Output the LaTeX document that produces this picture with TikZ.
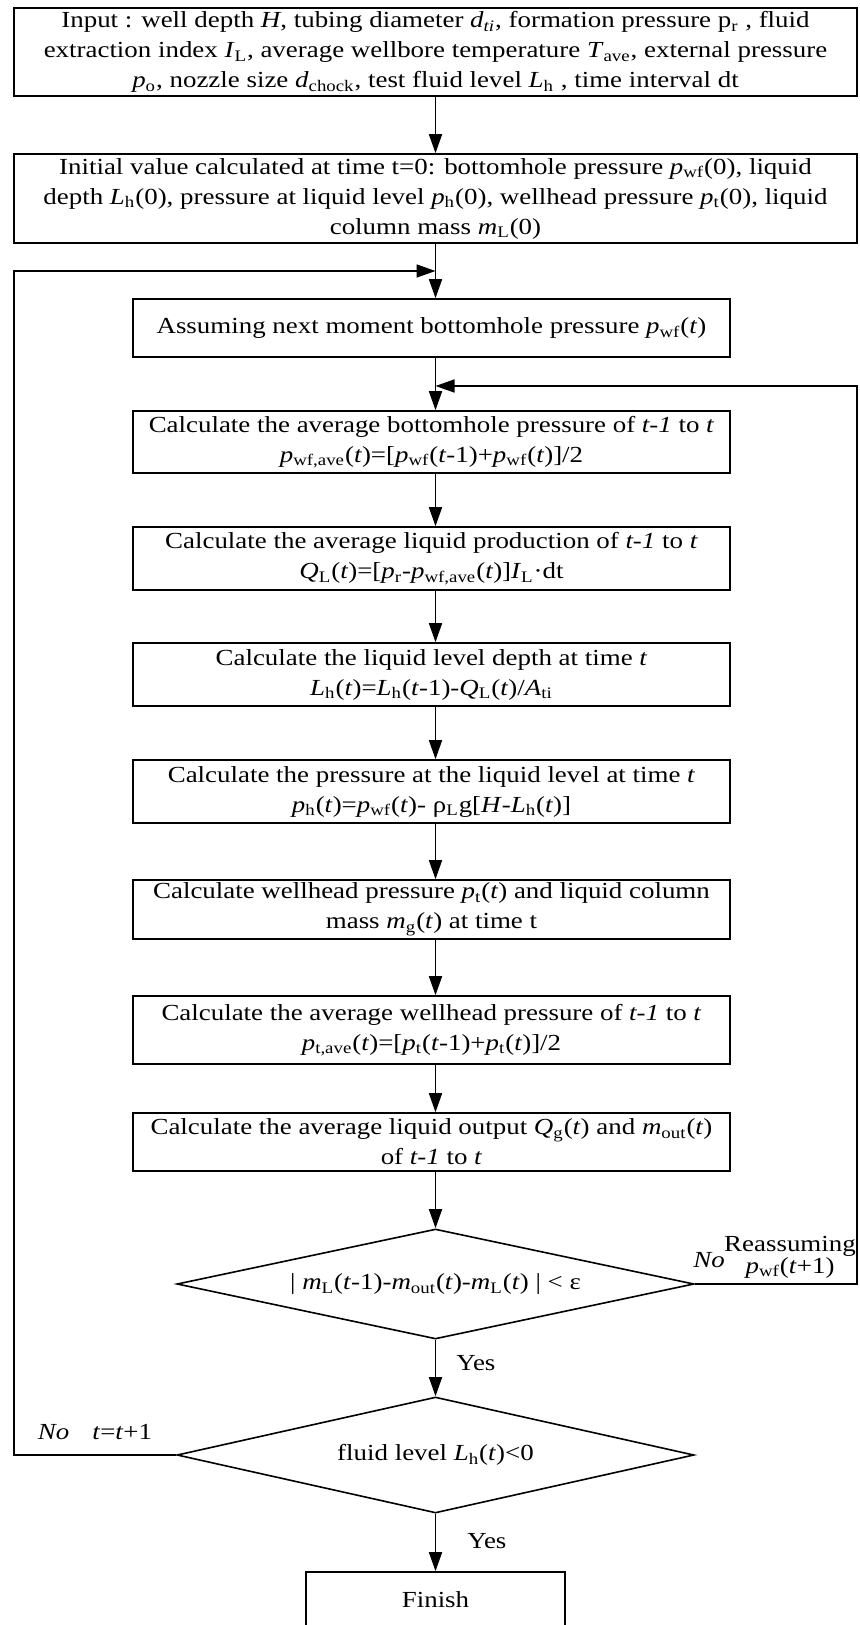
\documentclass[tikz,border=0pt]{standalone}
\usepackage{fontspec}
\setmainfont{Liberation Serif}[FakeStretch=1.17]
\usetikzlibrary{shapes.geometric,arrows.meta}
\newcommand{\var}[2]{\textit{#1}\textsubscript{#2}}
\newcommand{\tsym}{\textit{t}}

\begin{document}
\begin{tikzpicture}[x=0.5pt,y=-0.5pt,line width=0.8pt,
    every node/.style={font=\fontsize{11.5}{15}\selectfont},
    widebox/.style={draw,align=center,minimum width=421.5pt,inner sep=0pt},
    stepbox/.style={draw,align=center,minimum width=298.5pt,inner sep=0pt},
    decision/.style={draw,diamond,aspect=4.7,minimum width=258.5pt,inner sep=0pt},
    flow/.style={-{Triangle[length=9.5pt,width=6.5pt]}},
    tag/.style={inner sep=0pt}]
\useasboundingbox (0,0) rectangle (859,1625);

\node [widebox,minimum height=44pt]   (input)  at (435.5,  52  ) {Input : well depth \textit{H}, tubing diameter \textit{d}\textsubscript{\textit{ti}}, formation pressure p\textsubscript{r} , fluid\\
    extraction index \var{I}{L}, average wellbore temperature \var{T}{ave}, external pressure\\
    \var{p}{o}, nozzle size \var{d}{chock}, test fluid level \var{L}{h} , time interval dt};
\node [widebox,minimum height=44.5pt] (init)   at (435.5, 198.5) {Initial value calculated at time t=0: bottomhole pressure \var{p}{wf}(0), liquid\\
    depth \var{L}{h}(0), pressure at liquid level \var{p}{h}(0), wellhead pressure \var{p}{t}(0), liquid\\
    column mass \var{m}{L}(0)};
\node [stepbox,minimum height=29pt]   (assume) at (431.5, 328  ) {Assuming next moment bottomhole pressure \var{p}{wf}(\tsym)};
\node [stepbox,minimum height=31pt]   (avgpwf) at (431.5, 442  ) {Calculate the average bottomhole pressure of \textit{t-1} to \tsym\\
    \var{p}{wf,ave}(\tsym)=[\var{p}{wf}(\tsym-1)+\var{p}{wf}(\tsym)]/2};
\node [stepbox,minimum height=31.5pt] (prod)   at (431.5, 558.5) {Calculate the average liquid production of \textit{t-1} to \tsym\\
    \var{Q}{L}(\tsym)=[\var{p}{r}-\var{p}{wf,ave}(\tsym)]\var{I}{L}·dt};
\node [stepbox,minimum height=31.5pt] (depth)  at (431.5, 674.5) {Calculate the liquid level depth at time \tsym\\
    \var{L}{h}(\tsym)=\var{L}{h}(\tsym-1)-\var{Q}{L}(\tsym)/\var{A}{ti}};
\node [stepbox,minimum height=31.5pt] (presh)  at (431.5, 791.5) {Calculate the pressure at the liquid level at time \tsym\\
    \var{p}{h}(\tsym)=\var{p}{wf}(\tsym)- ρ\textsubscript{L}g[\textit{H}-\var{L}{h}(\tsym)]};
\node [stepbox,minimum height=29.5pt] (whead)  at (431.5, 909.5) {Calculate wellhead pressure \var{p}{t}(\tsym) and liquid column\\
    mass \var{m}{g}(\tsym) at time t};
\node [stepbox,minimum height=34pt]   (avgpt)  at (431.5,1030  ) {Calculate the average wellhead pressure of \textit{t-1} to \tsym\\
    \var{p}{t,ave}(\tsym)=[\var{p}{t}(\tsym-1)+\var{p}{t}(\tsym)]/2};
\node [stepbox,minimum height=29pt]   (output) at (431.5,1142  ) {Calculate the average liquid output \var{Q}{g}(\tsym) and \var{m}{out}(\tsym)\\
    of \textit{t-1} to \tsym};
\node [decision,minimum height=55pt]  (check)  at (435.5,1284  ) {| \var{m}{L}(\tsym-1)-\var{m}{out}(\tsym)-\var{m}{L}(\tsym) | < ε};
\node [decision,minimum height=58pt]  (level)  at (435.5,1455  ) {fluid level \var{L}{h}(\tsym)<0};
\node [draw,minimum width=129.5pt,minimum height=28pt] (finish) at (435.5,1600) {Finish};

\coordinate (reassume) at (857, 386);
\coordinate (nextstep) at ( 14, 271);

\draw[flow] (input.south) -- (init.north);
\draw[flow] (init.south)  -- (init.south |- assume.north);
\foreach \a/\b in {assume/avgpwf,avgpwf/prod,prod/depth,depth/presh,presh/whead,whead/avgpt,avgpt/output}
    \draw[flow] (init.south |- \a.south) -- (init.south |- \b.north);
\draw[flow] (init.south |- output.south) -- (check.north);
\draw[flow] (check.south) -- (level.north)
    node [tag,pos=.42,right=10pt] (yes1) {Yes};
\draw[flow] (level.south) -- (finish.north)
    node [tag,pos=.48,right=15.5pt] (yes2) {Yes};

\draw[flow] (check.east) -| (reassume) -- (init.south |- reassume);
\draw[flow] (level.west) -| (nextstep) -- (init.south |- nextstep);

\path
    (709,1260) node [tag]              (no1)  {\textit{No}}
    (790,1257) node [tag,align=center] (reas) {Reassuming\\[-4pt]\var{p}{wf}(\tsym+1)}
    ( 95,1432) node [tag]              (no2)  {\textit{No}\quad\tsym=\tsym+1};
\end{tikzpicture}
\end{document}
